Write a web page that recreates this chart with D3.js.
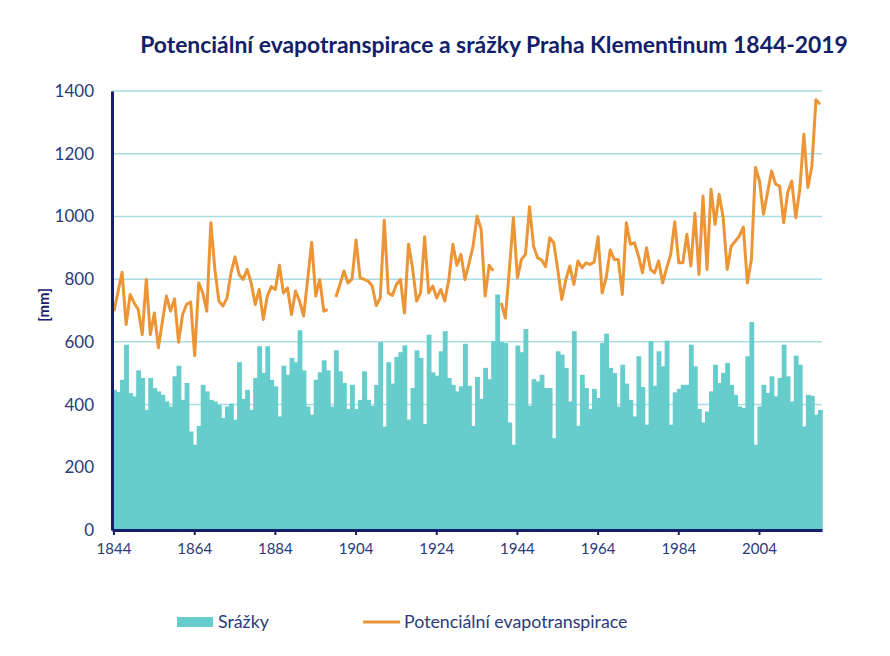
<!DOCTYPE html>
<html><head><meta charset="utf-8">
<script src="https://cdn.jsdelivr.net/npm/d3@7"></script>
<style>body{margin:0;background:#fff}svg{display:block}</style>
</head><body>
<script>
const startYear = 1844, endYear = 2019;
const years = d3.range(startYear, endYear + 1);
const srazky = [447,440,479,591,437,426,509,485,383,485,453,442,431,410,394,490,524,415,469,314,272,332,463,442,415,410,399,357,394,403,352,535,418,447,383,485,586,501,586,479,458,362,524,495,549,535,637,509,394,368,479,503,541,509,394,573,506,469,386,463,386,415,506,415,396,463,599,330,535,467,552,567,589,352,453,573,549,338,623,503,492,570,634,485,463,442,458,594,460,332,488,418,517,481,602,751,599,596,343,272,588,567,641,396,481,474,495,453,453,293,570,559,517,410,634,332,495,453,386,450,421,596,626,517,501,394,527,467,415,362,554,456,336,602,460,570,522,604,336,439,450,463,463,591,522,386,343,378,442,527,469,501,533,463,431,394,389,554,663,272,394,463,437,490,426,485,591,490,410,556,527,330,431,428,368,383];
const evapotranspirace = [698,760,822,655,751,724,703,623,799,623,692,581,666,746,698,737,599,687,720,727,556,788,756,698,980,831,730,714,740,820,871,815,799,831,788,719,767,671,746,776,767,844,756,772,687,762,730,682,799,918,746,799,698,703,null,743,783,826,788,800,925,804,799,794,778,716,740,988,756,748,783,799,692,911,836,730,756,935,756,778,740,767,730,799,911,844,879,799,850,905,1001,959,746,844,826,null,724,676,830,996,804,863,879,1031,905,868,861,840,932,916,830,735,799,842,783,858,836,852,847,854,935,756,804,893,863,863,751,980,911,916,874,820,900,831,820,858,788,836,879,983,852,852,943,842,1010,815,1065,831,1087,975,1071,996,831,905,921,937,966,788,863,1156,1113,1007,1076,1145,1103,1097,980,1076,1113,996,1087,1262,1092,1161,1372,1358];
const yTicks = [0,200,400,600,800,1000,1200,1400];
const xTickYears = years.filter(y => (y - startYear) % 20 === 0);
const titleText = "Potenciální evapotranspirace a srážky Praha Klementinum 1844-2019";
const legendLabels = ["Srážky", "Potenciální evapotranspirace"];

const W = 890, H = 656;
const navy = "#14206e", textCol = "#2b3a78", teal = "#66cccc", orange = "#ec9536", grid = "#a9dde3";
const font = "Lato, 'Open Sans', sans-serif";

const svg = d3.select("body").append("svg").attr("width", W).attr("height", H);

const x = d3.scaleBand().domain(years).range([112, 822]).padding(0);
const y = d3.scaleLinear().domain([0, 1400]).range([530, 91]);

// gridlines
svg.append("g").selectAll("line").data(yTicks.filter(d => d > 0)).join("line")
  .attr("x1", 112).attr("x2", 822).attr("y1", d => y(d)).attr("y2", d => y(d))
  .attr("stroke", grid).attr("stroke-width", 1.5);

// bars
svg.append("g").selectAll("rect").data(years).join("rect")
  .attr("x", d => x(d)).attr("width", x.bandwidth() + 0.8)
  .attr("y", (d, i) => y(srazky[i])).attr("height", (d, i) => y(0) - y(srazky[i]))
  .attr("fill", teal);

// line
const line = d3.line()
  .defined(d => d[1] != null)
  .x(d => x(d[0]) + x.bandwidth() / 2)
  .y(d => y(d[1]));
svg.append("path").datum(years.map((yr, i) => [yr, evapotranspirace[i]]))
  .attr("d", line).attr("fill", "none").attr("stroke", orange)
  .attr("stroke-width", 3).attr("stroke-linejoin", "round");

// y axis
const yAxis = svg.append("g").attr("transform", "translate(112,0)")
  .call(d3.axisLeft(y).tickValues(yTicks).tickFormat(d3.format("d")).tickSize(0).tickPadding(18));
yAxis.select(".domain").attr("stroke", navy).attr("stroke-width", 3);
yAxis.selectAll("text").attr("fill", textCol).attr("font-family", font).attr("font-size", 17);

// x axis
const xAxis = svg.append("g").attr("transform", "translate(0,530)")
  .call(d3.axisBottom(x).tickValues(xTickYears).tickSize(5).tickPadding(8).tickSizeOuter(0));
xAxis.select(".domain").attr("stroke", navy).attr("stroke-width", 3);
xAxis.selectAll(".tick line").attr("stroke", navy).attr("stroke-width", 2);
xAxis.selectAll("text").attr("fill", textCol).attr("font-family", font).attr("font-size", 15);

// y label
svg.append("text").attr("transform", "translate(49,305) rotate(-90)")
  .attr("text-anchor", "middle").attr("font-family", font).attr("font-weight", "bold")
  .attr("font-size", 15).attr("fill", navy).text("[mm]");

// title
svg.append("text").attr("x", 494).attr("y", 53).attr("text-anchor", "middle")
  .attr("font-family", font).attr("font-weight", "bold").attr("font-size", 22.9)
  .attr("fill", "#12206a").text(titleText);

// legend
const lg = svg.append("g");
lg.append("rect").attr("x", 177).attr("y", 617).attr("width", 36).attr("height", 10).attr("fill", teal);
lg.append("text").attr("x", 218).attr("y", 628).attr("font-family", font).attr("font-size", 17.8)
  .attr("fill", textCol).text(legendLabels[0]);
lg.append("line").attr("x1", 363).attr("x2", 400).attr("y1", 622).attr("y2", 622)
  .attr("stroke", orange).attr("stroke-width", 3);
lg.append("text").attr("x", 404).attr("y", 628).attr("font-family", font).attr("font-size", 17.8)
  .attr("fill", textCol).text(legendLabels[1]);
</script>
</body></html>
